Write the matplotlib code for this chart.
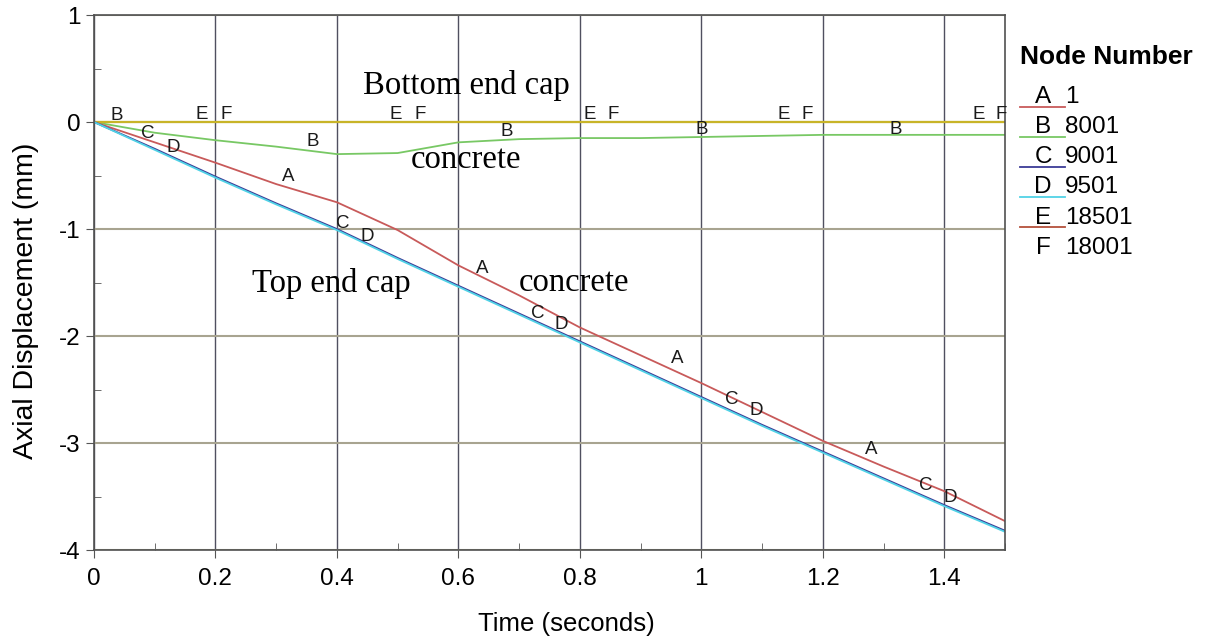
import matplotlib.pyplot as plt
from matplotlib.lines import Line2D
from matplotlib.ticker import MultipleLocator

plt.rcParams['font.family'] = ['Liberation Sans', 'DejaVu Sans']
plt.rcParams['axes.unicode_minus'] = False

# data
t = [0.0, 0.1, 0.2, 0.3, 0.4, 0.5, 0.6, 0.7, 0.8, 0.9, 1.0, 1.1, 1.2, 1.3, 1.4, 1.5]
node_A = [0.0, -0.19, -0.38, -0.58, -0.75, -1.01, -1.34, -1.62, -1.92, -2.18, -2.44, -2.71, -2.98, -3.22, -3.45, -3.73]
node_B = [0.0, -0.10, -0.17, -0.23, -0.30, -0.29, -0.19, -0.16, -0.15, -0.15, -0.14, -0.13, -0.12, -0.12, -0.12, -0.12]
node_C = [0.0, -0.25, -0.51, -0.76, -1.00, -1.27, -1.53, -1.79, -2.05, -2.31, -2.57, -2.83, -3.08, -3.33, -3.58, -3.82]
node_D = [0.0, -0.26, -0.52, -0.77, -1.01, -1.28, -1.54, -1.80, -2.06, -2.32, -2.58, -2.84, -3.09, -3.34, -3.59, -3.83]
node_E = [0.0] * 16
node_F = [0.0] * 16

letters = ['A', 'B', 'C', 'D', 'E', 'F']
node_ids = ['1', '8001', '9001', '9501', '18501', '18001']
colors = ['#c85a5a', '#78c864', '#3c3c96', '#50d2e6', '#b4503c', '#c8b428']

# curve letter labels (x, y)
lab_A = [(0.32, -0.51), (0.64, -1.37), (0.96, -2.21), (1.28, -3.06)]
lab_B = [(0.038, 0.06), (0.36, -0.18), (0.68, -0.09), (1.0, -0.07), (1.32, -0.07)]
lab_C = [(0.089, -0.11), (0.41, -0.95), (0.73, -1.79), (1.05, -2.59), (1.37, -3.40)]
lab_D = [(0.13, -0.24), (0.45, -1.07), (0.77, -1.89), (1.09, -2.70), (1.41, -3.51)]
lab_E = [(0.178, 0.07), (0.497, 0.07), (0.817, 0.07), (1.135, 0.07), (1.456, 0.07)]
lab_F = [(0.217, 0.07), (0.537, 0.07), (0.855, 0.07), (1.175, 0.07), (1.494, 0.07)]

fig = plt.figure(figsize=(12.2, 6.42), dpi=100)
ax = fig.add_axes([0.077, 0.1433, 0.7468, 0.8333])

ax.plot(t, node_B, color=colors[1], lw=1.3)
ax.plot(t, node_E, color=colors[4], lw=1.3)
ax.plot(t, node_F, color=colors[5], lw=1.6)
ax.plot(t, node_A, color=colors[0], lw=1.3)
ax.plot(t, node_C, color=colors[2], lw=1.3)
ax.plot(t, node_D, color=colors[3], lw=1.3)

for labs, l in zip([lab_A, lab_B, lab_C, lab_D, lab_E, lab_F], letters):
    for x, y in labs:
        ax.text(x, y, l, fontsize=13.5, ha='center', va='center', color='#1a1a1a')

ax.set_xlim(0, 1.5)
ax.set_ylim(-4, 1)
ax.xaxis.set_minor_locator(MultipleLocator(0.1))
ax.yaxis.set_major_locator(MultipleLocator(1))
ax.yaxis.set_minor_locator(MultipleLocator(0.5))
ax.set_xticks([0, 0.2, 0.4, 0.6, 0.8, 1.0, 1.2, 1.4])
ax.set_xticklabels(['0', '0.2', '0.4', '0.6', '0.8', '1', '1.2', '1.4'])
ax.tick_params(which='major', direction='out', length=6, labelsize=17.5, color='#555555')
ax.tick_params(axis='x', which='major', pad=7)
ax.tick_params(which='minor', direction='in', length=5, color='#555555')

ax.grid(axis='x', which='major', color='#505060', lw=1.0)
ax.grid(axis='y', which='major', color='#a8a490', lw=1.5)
for s in ax.spines.values():
    s.set_color('#505050')
    s.set_linewidth(1.2)

ax.set_xlabel('Time (seconds)', fontsize=18.5)
ax.set_ylabel('Axial Displacement (mm)', fontsize=20.5)
ax.xaxis.set_label_coords(0.519, -0.115)
ax.yaxis.set_label_coords(-0.060, 0.465)

ser = 'Liberation Serif'
ax.text(0.613, 0.34, 'Bottom end cap', fontsize=23.5, family=ser, ha='center', va='center')
ax.text(0.613, -0.35, 'concrete', fontsize=23.5, family=ser, ha='center', va='center')
ax.text(0.39, -1.51, 'Top end cap', fontsize=23.5, family=ser, ha='center', va='center')
ax.text(0.79, -1.50, 'concrete', fontsize=23.5, family=ser, ha='center', va='center')

# node legend on the right
fig.text(0.836, 0.911, 'Node Number', fontsize=19, fontweight='bold', va='center')
for i, (l, n, c) in enumerate(zip(letters, node_ids, colors)):
    yy = 0.849 - i * 0.047
    if l != 'F':
        fig.add_artist(Line2D([0.836, 0.873], [yy - 0.015, yy - 0.015], color=c, lw=1.3))
    fig.text(0.855, yy, l, fontsize=17.5, ha='center', va='center')
    fig.text(0.873, yy, n, fontsize=17.5, ha='left', va='center')

fig.savefig('out.png', dpi=100)
